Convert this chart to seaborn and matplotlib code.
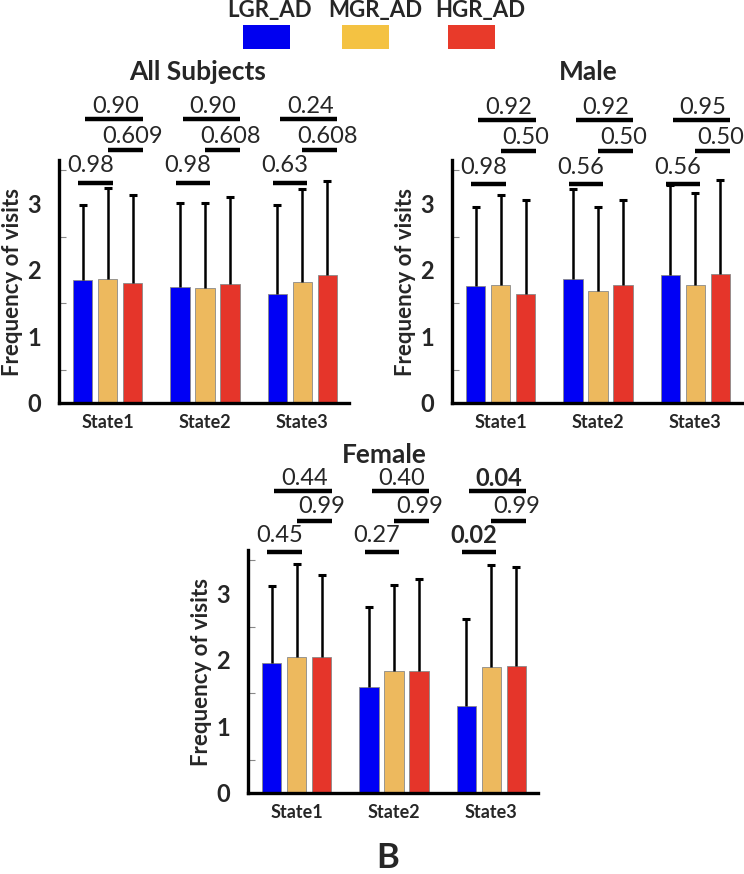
import pandas as pd
import numpy as np
import matplotlib
matplotlib.use("Agg")
import matplotlib.pyplot as plt
from matplotlib.patches import Rectangle
import seaborn as sns

states = ["State1", "State2", "State3"]
groups = ["LGR_AD", "MGR_AD", "HGR_AD"]

# mean frequency of visits, one list per group (State1..State3)
all_lgr = [1.85, 1.74, 1.64]
all_mgr = [1.87, 1.73, 1.82]
all_hgr = [1.80, 1.79, 1.92]
all_lgr_sd = [1.13, 1.26, 1.33]
all_mgr_sd = [1.36, 1.27, 1.40]
all_hgr_sd = [1.33, 1.30, 1.41]

male_lgr = [1.76, 1.87, 1.92]
male_mgr = [1.77, 1.68, 1.77]
male_hgr = [1.64, 1.77, 1.94]
male_lgr_sd = [1.18, 1.34, 1.35]
male_mgr_sd = [1.36, 1.27, 1.39]
male_hgr_sd = [1.41, 1.28, 1.41]

female_lgr = [1.96, 1.59, 1.30]
female_mgr = [2.04, 1.83, 1.90]
female_hgr = [2.05, 1.83, 1.91]
female_lgr_sd = [1.15, 1.20, 1.31]
female_mgr_sd = [1.40, 1.30, 1.52]
female_hgr_sd = [1.22, 1.38, 1.48]

# p-values: LGR vs MGR, MGR vs HGR, LGR vs HGR
all_p12 = ["0.98", "0.98", "0.63"]
all_p23 = ["0.609", "0.608", "0.608"]
all_p13 = ["0.90", "0.90", "0.24"]
male_p12 = ["0.98", "0.56", "0.56"]
male_p23 = ["0.50", "0.50", "0.50"]
male_p13 = ["0.92", "0.92", "0.95"]
female_p12 = ["0.45", "0.27", "0.02"]
female_p23 = ["0.99", "0.99", "0.99"]
female_p13 = ["0.44", "0.40", "0.04"]

bar_colors = {"LGR_AD": "#0000F5", "MGR_AD": "#EDB95E", "HGR_AD": "#E5352A"}
legend_colors = ["#0000F0", "#F4C242", "#E83A2A"]

sns.set_style("white")
plt.rcParams["font.family"] = ["Lato", "DejaVu Sans"]

fig = plt.figure(figsize=(7.44, 8.74), dpi=100)
W, H = 744, 874


def make_df(lgr, mgr, hgr, lsd, msd, hsd):
    rows = []
    for vals, sds, g in [(lgr, lsd, groups[0]), (mgr, msd, groups[1]), (hgr, hsd, groups[2])]:
        for s, v, e in zip(states, vals, sds):
            rows.append({"State": s, "Group": g, "Mean": v, "SD": e})
    return pd.DataFrame(rows)


def sig(ax, x0, x1, y, label, tx, dy):
    bold = label in ("0.02", "0.04")
    ax.plot([x0, x1], [y, y], color="black", lw=3.2, clip_on=False, solid_capstyle="butt")
    ax.text(tx, y + dy, label, ha="center", va="center", fontsize=17,
            fontweight="bold" if bold else "normal", clip_on=False)


def panel(rect, df, p12, p23, p13, levels, title, title_xy):
    ax = fig.add_axes(rect)
    sns.barplot(data=df, x="State", y="Mean", hue="Group", order=states, hue_order=groups,
                palette=bar_colors, saturation=1, width=0.77, gap=0.22, errorbar=None,
                edgecolor="#8a8a8a", linewidth=0.6, legend=False, ax=ax)
    bar_sets = list(ax.containers)
    for gi, cont in enumerate(bar_sets):
        sub = df[df["Group"] == groups[gi]].set_index("State").loc[states]
        for bar, sd in zip(cont, sub["SD"]):
            xc = bar.get_x() + bar.get_width() / 2
            eb = ax.errorbar(xc, bar.get_height(), yerr=[[0], [sd]], fmt="none",
                             ecolor="black", elinewidth=1.8, capsize=2.8, capthick=2.2)
            # upper cap only
            for cap in eb[1]:
                if cap.get_ydata()[0] <= bar.get_height() + 1e-9:
                    cap.set_visible(False)
    for i in range(3):
        sig(ax, i - 0.30, i + 0.05, levels[0], p12[i], i - 0.18, 0.25)
        sig(ax, i - 0.00, i + 0.36, levels[1], p23[i], i + 0.26, 0.21)
        sig(ax, i - 0.23, i + 0.36, levels[2], p13[i], i + 0.08, 0.19)
    ax.set_xlim(-0.5, 2.48)
    ax.set_ylim(0, 3.65)
    ax.set_yticks([0, 1, 2, 3])
    ax.set_yticks([0.5, 1.5, 2.5, 3.5], minor=True)
    ax.tick_params(axis="y", which="major", length=0, labelsize=17, pad=13)
    ax.tick_params(axis="y", which="minor", length=5, width=0.8, color="#888888", direction="in", left=True)
    ax.tick_params(axis="x", length=0, labelsize=13, pad=8)
    for lab in ax.get_yticklabels() + ax.get_xticklabels():
        lab.set_fontweight("bold")
    ax.set_xlabel("")
    ax.set_ylabel("Frequency of visits", fontsize=16, fontweight="bold")
    ax.yaxis.set_label_coords(-0.125, 0.5)
    sns.despine(ax=ax)
    for sp in ["left", "bottom"]:
        ax.spines[sp].set_linewidth(2.4)
        ax.spines[sp].set_color("black")
    fig.text(title_xy[0] / W, 1 - title_xy[1] / H, title, ha="center", va="center",
             fontsize=19, fontweight="bold")
    return ax


ax_h = 243 / H
panel([59 / W, 1 - 403 / H, 290 / W, ax_h],
      make_df(all_lgr, all_mgr, all_hgr, all_lgr_sd, all_mgr_sd, all_hgr_sd),
      all_p12, all_p23, all_p13, [3.31, 3.80, 4.27], "All Subjects", (198, 72))
panel([452 / W, 1 - 403 / H, 290 / W, ax_h],
      make_df(male_lgr, male_mgr, male_hgr, male_lgr_sd, male_mgr_sd, male_hgr_sd),
      male_p12, male_p23, male_p13, [3.29, 3.78, 4.25], "Male", (588, 72))
panel([248 / W, 1 - 793 / H, 290 / W, ax_h],
      make_df(female_lgr, female_mgr, female_hgr, female_lgr_sd, female_mgr_sd, female_hgr_sd),
      female_p12, female_p23, female_p13, [3.62, 4.09, 4.53], "Female", (384, 455))

# legend: label above a colour swatch
leg_patch_x = [243, 342, 448]
leg_text_x = [270, 375, 480]
for g, c, px, tx in zip(groups, legend_colors, leg_patch_x, leg_text_x):
    fig.patches.append(Rectangle((px / W, 1 - 49 / H), 47 / W, 24 / H, transform=fig.transFigure,
                                 facecolor=c, edgecolor="none"))
    fig.text(tx / W, 1 - 11 / H, g, ha="center", va="center", fontsize=16, fontweight="bold")

fig.text(388 / W, 1 - 858 / H, "B", ha="center", va="center", fontsize=25, fontweight="bold")

fig.savefig("out.png", dpi=100)
